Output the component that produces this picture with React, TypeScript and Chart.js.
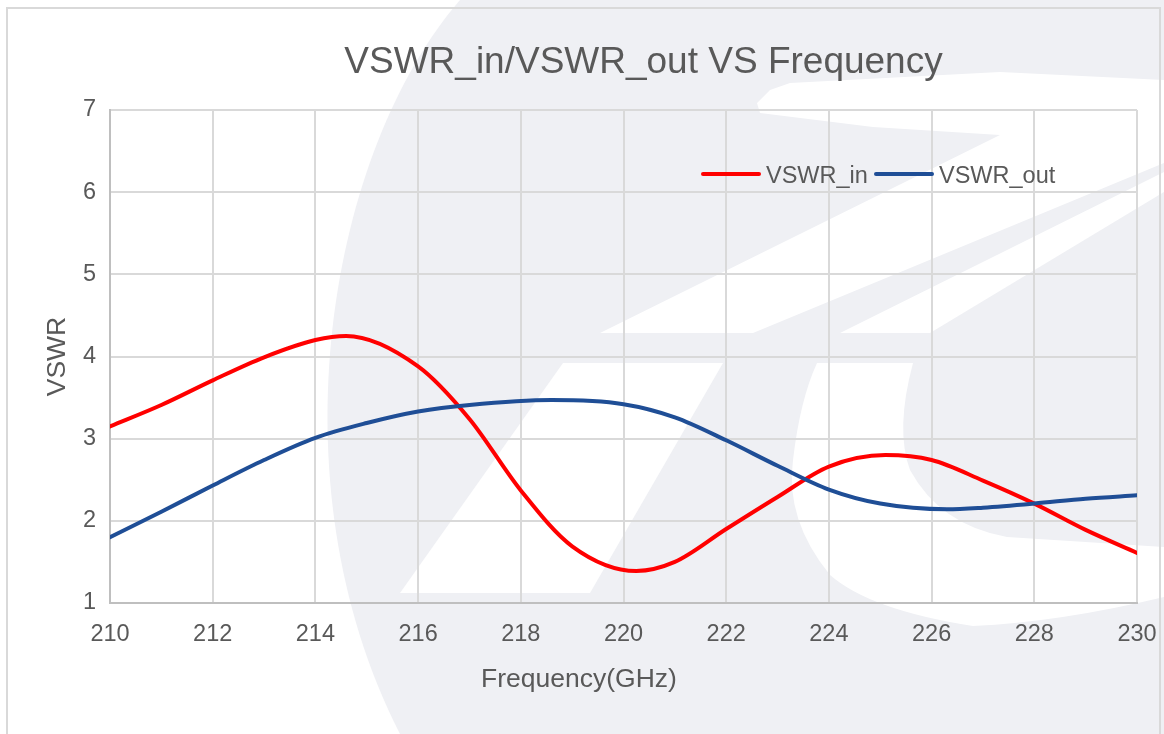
import React, { useEffect, useRef } from 'react';
import { Chart, registerables } from 'chart.js';

Chart.register(...registerables);

// ---- data ----
const freqIn = [210, 211, 212, 213, 214, 214.6, 216, 217, 218, 219, 220.25, 221, 222, 223, 224, 225.1, 226, 227, 228, 229, 230];
const vswrIn = [3.15, 3.41, 3.71, 3.99, 4.20, 4.25, 3.88, 3.24, 2.37, 1.69, 1.39, 1.50, 1.90, 2.29, 2.66, 2.80, 2.74, 2.49, 2.21, 1.89, 1.61];
const freqOut = [210, 211, 212, 213, 214, 215, 216, 217, 218.6, 220, 221, 222, 223, 224, 225, 226.3, 227, 228, 229, 230];
const vswrOut = [1.80, 2.11, 2.43, 2.74, 3.01, 3.19, 3.33, 3.41, 3.47, 3.42, 3.26, 2.98, 2.67, 2.38, 2.21, 2.14, 2.16, 2.21, 2.27, 2.31];
const xRange = [210, 230];
const yRange = [1, 7];
const xStep = 2;
const yStep = 1;
const seriesNames = ['VSWR_in', 'VSWR_out'];
const chartTitle = 'VSWR_in/VSWR_out VS Frequency';
const xTitle = 'Frequency(GHz)';
const yTitle = 'VSWR';

const FONT = "'Liberation Sans', Arial, Helvetica, sans-serif";
const TEXT = '#595959';
const RED = '#ff0000';
const BLUE = '#1f4e96';
const WM = '#eff0f4';

function poly(ctx: CanvasRenderingContext2D, pts: number[][]) {
  ctx.beginPath();
  ctx.moveTo(pts[0][0], pts[0][1]);
  for (let i = 1; i < pts.length; i++) ctx.lineTo(pts[i][0], pts[i][1]);
  ctx.closePath();
  ctx.fill();
}

const backgroundPlugin = {
  id: 'bgWatermark',
  beforeDraw(chart: any) {
    const ctx: CanvasRenderingContext2D = chart.ctx;
    const W = chart.width;
    const H = chart.height;
    ctx.save();
    ctx.fillStyle = '#ffffff';
    ctx.fillRect(0, 0, W, H);
    // big grey watermark blob
    ctx.fillStyle = WM;
    ctx.beginPath();
    ctx.moveTo(460, 0);
    ctx.bezierCurveTo(330, 150, 270, 480, 400, 734);
    ctx.lineTo(W, H);
    ctx.lineTo(W, 0);
    ctx.closePath();
    ctx.fill();
    // white cut-outs
    ctx.fillStyle = '#ffffff';
    poly(ctx, [[757, 103], [770, 90], [790, 83], [1000, 72], [1164, 80], [1164, 163], [753, 333], [600, 333], [1000, 135], [873, 127], [760, 113]]);
    poly(ctx, [[1164, 172], [1164, 192], [930, 333], [840, 333]]);
    poly(ctx, [[563, 363], [723, 363], [590, 593], [400, 593]]);
    ctx.beginPath();
    ctx.moveTo(817, 363);
    ctx.lineTo(913, 363);
    ctx.quadraticCurveTo(895, 430, 910, 470);
    ctx.quadraticCurveTo(940, 525, 1007, 537);
    ctx.lineTo(1164, 547);
    ctx.lineTo(1164, 597);
    ctx.quadraticCurveTo(1060, 622, 973, 626);
    ctx.quadraticCurveTo(870, 610, 830, 575);
    ctx.quadraticCurveTo(785, 520, 793, 460);
    ctx.quadraticCurveTo(800, 400, 817, 363);
    ctx.closePath();
    ctx.fill();
    // frame
    ctx.strokeStyle = '#d9d9d9';
    ctx.lineWidth = 2;
    ctx.strokeRect(7, 8, 1153, 800);
    ctx.restore();
  },
  afterDraw(chart: any) {
    const ctx: CanvasRenderingContext2D = chart.ctx;
    ctx.save();
    ctx.fillStyle = TEXT;
    // title
    ctx.font = `37px ${FONT}`;
    ctx.textAlign = 'center';
    ctx.textBaseline = 'alphabetic';
    ctx.fillText(chartTitle, 643.5, 73);
    // x title
    ctx.font = `26.5px ${FONT}`;
    ctx.fillText(xTitle, 579, 687);
    // y title
    ctx.save();
    ctx.translate(65, 356.5);
    ctx.rotate(-Math.PI / 2);
    ctx.fillText(yTitle, 0, 0);
    ctx.restore();
    // legend
    const ds = chart.data.datasets;
    const legend = [
      { x0: 703, x1: 759, tx: 766 },
      { x0: 876, x1: 932, tx: 939 },
    ];
    ctx.font = `23.5px ${FONT}`;
    ctx.textAlign = 'left';
    legend.forEach((l, i) => {
      ctx.strokeStyle = ds[i].borderColor;
      ctx.lineWidth = 4;
      ctx.lineCap = 'round';
      ctx.beginPath();
      ctx.moveTo(l.x0, 174);
      ctx.lineTo(l.x1, 174);
      ctx.stroke();
      ctx.fillStyle = TEXT;
      ctx.fillText(ds[i].label, l.tx, 183);
    });
    ctx.restore();
  },
};

export default function App() {
  const ref = useRef<HTMLCanvasElement | null>(null);

  useEffect(() => {
    if (!ref.current) return;
    const chart = new Chart(ref.current, {
      type: 'line',
      data: {
        datasets: [
          {
            label: seriesNames[0],
            data: freqIn.map((f, i) => ({ x: f, y: vswrIn[i] })),
            borderColor: RED,
            backgroundColor: RED,
            borderWidth: 4,
            pointRadius: 0,
            cubicInterpolationMode: 'monotone',
            borderCapStyle: 'round',
            order: 1,
          },
          {
            label: seriesNames[1],
            data: freqOut.map((f, i) => ({ x: f, y: vswrOut[i] })),
            borderColor: BLUE,
            backgroundColor: BLUE,
            borderWidth: 4,
            pointRadius: 0,
            cubicInterpolationMode: 'monotone',
            borderCapStyle: 'round',
            order: 0,
          },
        ],
      },
      options: {
        animation: false,
        responsive: false,
        layout: { padding: { left: 0, right: 27, top: 110, bottom: 0 } },
        plugins: {
          legend: { display: false },
          title: { display: false },
          tooltip: { enabled: false },
        },
        scales: {
          x: {
            type: 'linear',
            min: xRange[0],
            max: xRange[1],
            ticks: { stepSize: xStep, color: TEXT, font: { family: FONT, size: 23.5 }, padding: 17, maxRotation: 0 },
            grid: { color: '#d9d9d9', lineWidth: 2, drawTicks: false },
            border: { color: '#bfbfbf', width: 2 },
            afterFit: (s: any) => { s.height = 131; s.paddingLeft = 0; s.paddingRight = 0; },
          },
          y: {
            min: yRange[0],
            max: yRange[1],
            ticks: { stepSize: yStep, color: TEXT, font: { family: FONT, size: 23.5 }, padding: 14 },
            grid: { color: '#d9d9d9', lineWidth: 2, drawTicks: false },
            border: { color: '#bfbfbf', width: 2 },
            afterFit: (s: any) => { s.width = 110; s.paddingTop = 0; s.paddingBottom = 0; },
          },
        },
      },
      plugins: [backgroundPlugin],
    });
    return () => chart.destroy();
  }, []);

  return (
    <div style={{ position: 'absolute', left: 0, top: 0, width: 1164, height: 734 }}>
      <canvas ref={ref} width={1164} height={734} style={{ display: 'block' }} />
    </div>
  );
}
